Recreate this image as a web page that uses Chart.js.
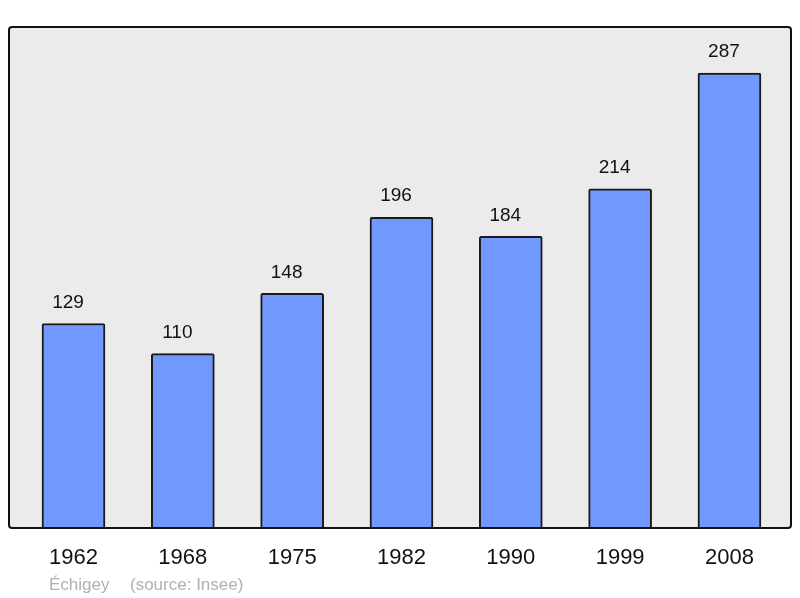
<!DOCTYPE html>
<html>
<head>
<meta charset="utf-8">
<script src="https://cdn.jsdelivr.net/npm/chart.js@4/dist/chart.umd.min.js"></script>
<style>
  html, body { margin: 0; padding: 0; background: #fff; }
  canvas { display: block; }
</style>
</head>
<body>
<canvas id="chart" width="800" height="598"></canvas>
<script>
// --- datos ---
const years = ["1962", "1968", "1975", "1982", "1990", "1999", "2008"];
const population = [129, 110, 148, 196, 184, 214, 287];
const commune = "Échigey";
const source = "(source: Insee)";

const FONT = "'Liberation Sans', Arial, sans-serif";

// fondo gris con borde + etiquetas
const decor = {
  id: "decor",
  beforeDraw(chart) {
    const { ctx, chartArea: a } = chart;
    ctx.save();
    ctx.beginPath();
    ctx.roundRect(a.left, a.top, a.right - a.left, a.bottom - a.top, 3);
    ctx.fillStyle = "#ebebeb";
    ctx.fill();
    ctx.restore();
  },
  afterDatasetsDraw(chart) {
    const { ctx, chartArea: a } = chart;
    ctx.save();
    ctx.beginPath();
    ctx.roundRect(a.left, a.top, a.right - a.left, a.bottom - a.top, 3);
    ctx.lineWidth = 2;
    ctx.strokeStyle = "#111";
    ctx.stroke();

    // valores encima de las barras (un poco a la izquierda, como el original)
    ctx.fillStyle = "#111";
    ctx.font = "19px " + FONT;
    ctx.textAlign = "center";
    ctx.textBaseline = "middle";
    chart.getDatasetMeta(0).data.forEach((bar, i) => {
      ctx.fillText(population[i], bar.x - 5.5, bar.y - 21);
    });

    // pie
    ctx.fillStyle = "#b0b0b0";
    ctx.font = "17px " + FONT;
    ctx.textAlign = "left";
    ctx.fillText(commune, 49, 585);
    ctx.fillText(source, 130, 585);
    ctx.restore();
  }
};

new Chart(document.getElementById("chart"), {
  type: "bar",
  data: {
    datasets: [{
      data: population.map((v, i) => ({ x: i, y: v })),
      backgroundColor: "#7098ff",
      borderColor: "#1a1a1a",
      borderWidth: 2,
      borderSkipped: "bottom",
      borderRadius: 2,
      barThickness: 63
    }]
  },
  options: {
    responsive: false,
    animation: false,
    layout: { padding: { top: 27, left: 9, right: 9, bottom: 0 } },
    plugins: { legend: { display: false }, tooltip: { enabled: false } },
    scales: {
      x: {
        type: "linear",
        offset: false,
        min: -0.59,
        max: 6.563,
        grid: { display: false, drawTicks: false },
        border: { display: false },
        afterFit(scale) { scale.height = 70; },
        afterBuildTicks(scale) {
          scale.ticks = years.map((_, i) => ({ value: i }));
        },
        ticks: {
          autoSkip: false,
          maxRotation: 0,
          padding: 17,
          color: "#111",
          font: { family: FONT, size: 22 },
          callback: (v) => years[v]
        }
      },
      y: {
        display: false,
        min: 0,
        max: 316
      }
    }
  },
  plugins: [decor]
});
</script>
</body>
</html>
